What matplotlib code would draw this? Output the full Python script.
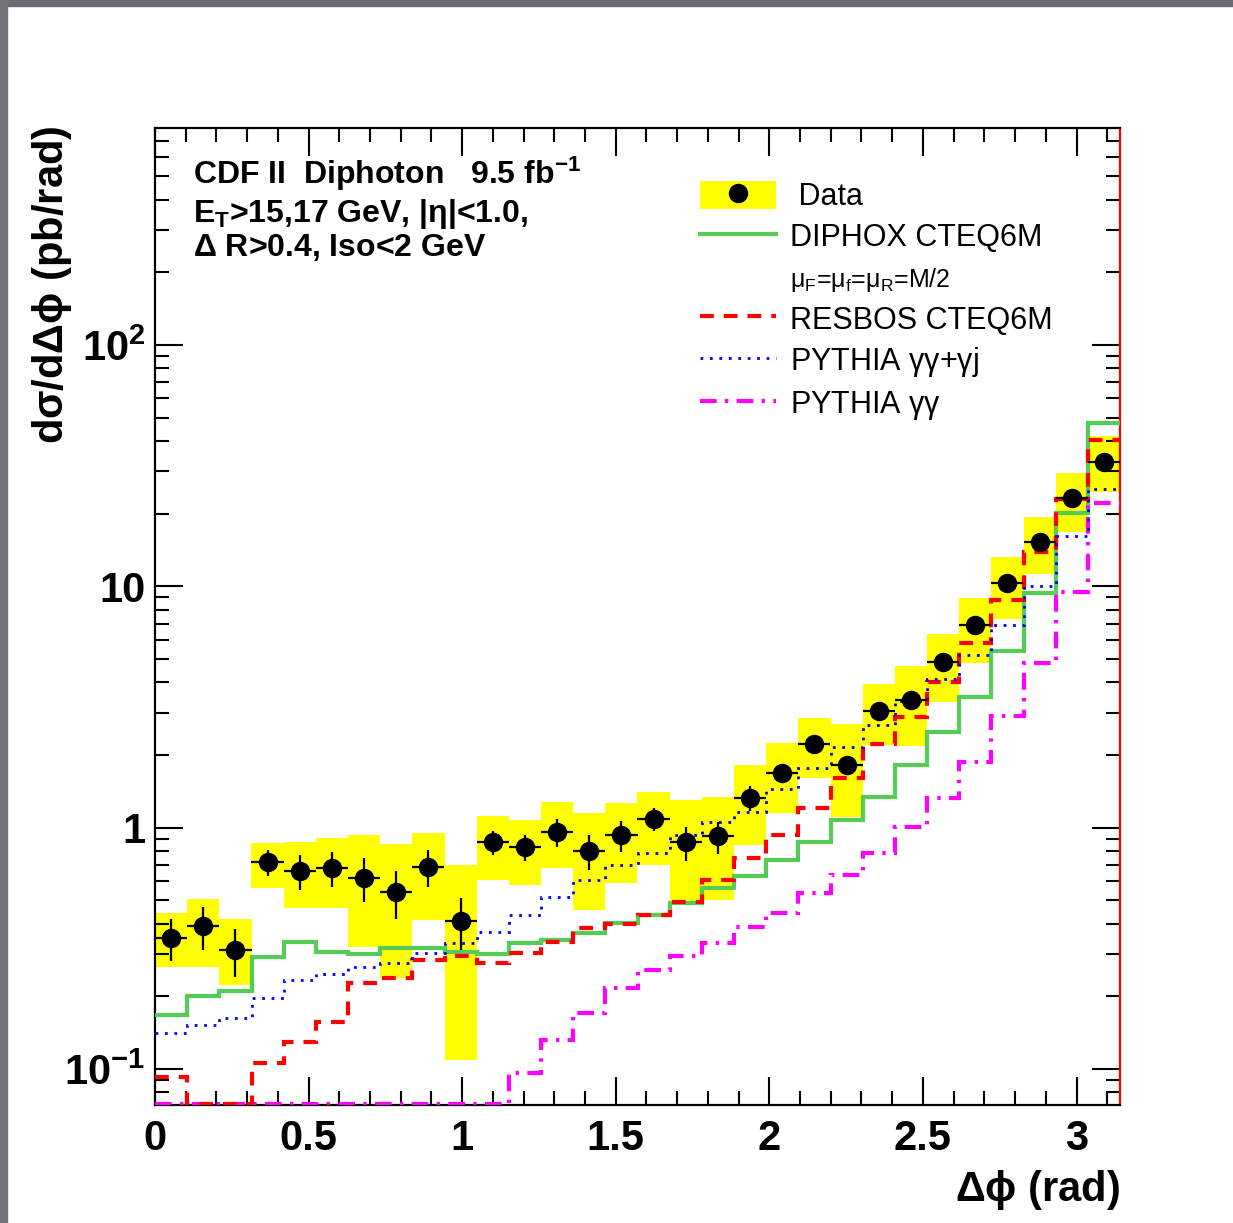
import numpy as np
import matplotlib
matplotlib.use("Agg")
import matplotlib.pyplot as plt
from matplotlib.patches import Patch, Rectangle
from matplotlib.lines import Line2D
from matplotlib.ticker import MultipleLocator, LogLocator, NullFormatter

plt.rcParams['font.family'] = ['Liberation Sans', 'DejaVu Sans']
plt.rcParams['mathtext.fontset'] = 'custom'
plt.rcParams['mathtext.rm'] = 'Liberation Sans'
plt.rcParams['mathtext.it'] = 'Liberation Sans:italic'
plt.rcParams['mathtext.bf'] = 'Liberation Sans:bold'
plt.rcParams['mathtext.default'] = 'regular'

# 30 bins in delta phi from 0 to pi
nbins = 30
edges = np.linspace(0, np.pi, nbins + 1)
centers = 0.5 * (edges[:-1] + edges[1:])

data = [0.35, 0.39, 0.31, 0.72, 0.66, 0.68, 0.62, 0.54, 0.69, 0.41,
        0.87, 0.83, 0.96, 0.80, 0.93, 1.09, 0.87, 0.92, 1.33, 1.69,
        2.23, 1.82, 3.03, 3.39, 4.88, 6.94, 10.3, 15.3, 23.3, 32.6]
stat_err = [0.07, 0.08, 0.07, 0.09, 0.11, 0.11, 0.13, 0.12, 0.12, 0.10,
            0.10, 0.10, 0.13, 0.13, 0.14, 0.12, 0.14, 0.14, 0.16, 0.15,
            0.18, 0.17, 0.20, 0.20, 0.25, 0.30, 0.40, 0.50, 0.60, 0.80]
sys_lo = [0.266, 0.266, 0.224, 0.564, 0.466, 0.466, 0.32, 0.239, 0.416, 0.109,
          0.61, 0.58, 0.68, 0.457, 0.59, 0.70, 0.494, 0.503, 0.85, 1.15,
          1.61, 1.11, 2.21, 2.17, 3.33, 4.83, 7.3, 11.2, 16.8, 24.7]
sys_hi = [0.445, 0.508, 0.42, 0.867, 0.875, 0.91, 0.935, 0.858, 0.953, 0.703,
          1.12, 1.08, 1.28, 1.15, 1.27, 1.40, 1.30, 1.34, 1.82, 2.25,
          2.86, 2.70, 3.95, 4.69, 6.36, 8.98, 13.2, 19.4, 29.5, 41.9]

# 0 = below the drawn range
diphox = [0.168, 0.20, 0.21, 0.29, 0.337, 0.306, 0.30, 0.318, 0.318, 0.306,
          0.30, 0.333, 0.343, 0.367, 0.404, 0.436, 0.489, 0.564, 0.63, 0.737,
          0.875, 1.08, 1.34, 1.82, 2.48, 3.49, 5.42, 9.42, 20.2, 47.7]
resbos = [0.093, 0, 0, 0.106, 0.13, 0.157, 0.228, 0.239, 0.284, 0.295,
          0.275, 0.303, 0.337, 0.385, 0.40, 0.436, 0.493, 0.61, 0.75, 0.935,
          1.21, 1.60, 2.23, 2.88, 4.03, 5.85, 8.81, 13.9, 23.1, 40.2]
pythia_gj = [0.141, 0.153, 0.163, 0.197, 0.234, 0.248, 0.266, 0.275, 0.303, 0.334,
             0.371, 0.436, 0.518, 0.61, 0.703, 0.788, 0.935, 1.06, 1.16, 1.45,
             1.77, 2.15, 2.67, 3.36, 4.14, 5.21, 6.94, 10.0, 16.1, 25.4]
pythia_gg = [0, 0, 0, 0, 0, 0, 0, 0, 0, 0,
             0, 0.096, 0.132, 0.171, 0.217, 0.258, 0.295, 0.334, 0.389, 0.444,
             0.538, 0.638, 0.788, 1.01, 1.33, 1.88, 2.91, 4.79, 9.5, 22.2]

ymin, ymax = 0.0710, 792.0

fig = plt.figure(figsize=(12.33, 12.23), dpi=100)
ax = fig.add_axes([155 / 1233, 1 - 1105 / 1223, 965 / 1233, 977 / 1223])
ax.set_yscale('log')
ax.set_xlim(0, np.pi)
ax.set_ylim(ymin, ymax)

binw = edges[1] - edges[0]
lo = np.array(sys_lo)
hi = np.array(sys_hi)
ax.bar(centers, hi - lo, bottom=lo, width=binw, color='#ffff00', linewidth=0, zorder=1)

def clip(v):
    return np.maximum(np.array(v, dtype=float), ymin * 1.005)

ax.stairs(clip(diphox), edges, baseline=None, color='#55cc55', lw=3, zorder=3)
ax.stairs(clip(resbos), edges, baseline=None, color='#ff0000', lw=3,
          linestyle=(0, (3.3, 2.4)), zorder=4)
ax.stairs(clip(pythia_gj), edges, baseline=None, color='#0000ff', lw=2.0,
          linestyle=(0, (1.0, 2.4)), zorder=4)
ax.stairs(clip(pythia_gg), edges, baseline=None, color='#ff00ff', lw=3,
          linestyle=(0, (4, 2, 0.8, 2)), zorder=3)

ax.errorbar(centers, data, yerr=stat_err, xerr=binw / 2, fmt='o', color='black',
            ms=13, lw=1.6, capsize=0, zorder=6)

# axes style
for s in ax.spines.values():
    s.set_linewidth(1.6)
ax.spines['right'].set_color('#ff0000')
ax.xaxis.set_major_locator(MultipleLocator(0.5))
ax.xaxis.set_minor_locator(MultipleLocator(0.1))
ax.set_xticks([0, 0.5, 1, 1.5, 2, 2.5, 3], labels=['0', '0.5', '1', '1.5', '2', '2.5', '3'])
ax.set_yticks([0.1, 1, 10, 100],
              labels=[r'$\mathbf{10^{-1}}$', '1', '10', r'$\mathbf{10^{2}}$'])
ax.yaxis.set_minor_locator(LogLocator(base=10, subs=np.arange(2, 10)))
ax.yaxis.set_minor_formatter(NullFormatter())
ax.tick_params(which='both', direction='in', top=True, right=True, width=1.5)
ax.tick_params(which='major', length=20)
ax.tick_params(which='minor', length=10)
ax.tick_params(axis='x', which='major', labelsize=30, pad=10)
ax.tick_params(axis='y', which='major', labelsize=30, pad=7)
for lab in ax.get_xticklabels() + ax.get_yticklabels():
    lab.set_fontweight('bold')

fig.text(52 / 1233, 1 - 126 / 1223, r'd$\sigma$/d$\Delta\phi$ (pb/rad)', rotation=90,
         ha='center', va='top', fontsize=30, fontweight='bold')
fig.text(1120 / 1233, 1 - 1190 / 1223, r'$\Delta\phi$ (rad)', ha='right', va='center',
         fontsize=30, fontweight='bold')

# info text
ax.text(0.0394, 0.953, r'CDF II  Diphoton   9.5 fb$^{-1}$', transform=ax.transAxes,
        fontsize=23, fontweight='bold', va='center')
ax.text(0.0394, 0.912, r'E$_T$>15,17 GeV, |$\eta$|<1.0,', transform=ax.transAxes,
        fontsize=23, fontweight='bold', va='center')
ax.text(0.0394, 0.878, r'$\Delta$ R>0.4, Iso<2 GeV', transform=ax.transAxes,
        fontsize=23, fontweight='bold', va='center')

# legend
h_data = (Patch(facecolor='#ffff00', edgecolor='none'),
          Line2D([], [], marker='o', color='black', ms=13, ls='none'))
h_diph = Line2D([], [], color='#55cc55', lw=3)
h_blank = Line2D([], [], color='none')
h_res = Line2D([], [], color='#ff0000', lw=3, ls=(0, (3.3, 2.4)))
h_gj = Line2D([], [], color='#0000ff', lw=2.0, ls=(0, (1.0, 2.4)))
h_gg = Line2D([], [], color='#ff00ff', lw=3, ls=(0, (4, 2, 0.8, 2)))
labels = [' Data', 'DIPHOX CTEQ6M', r'$\mu_F$=$\mu_f$=$\mu_R$=M/2',
          'RESBOS CTEQ6M', r'PYTHIA $\gamma\gamma$+$\gamma$j', r'PYTHIA $\gamma\gamma$']
leg = ax.legend([h_data, h_diph, h_blank, h_res, h_gj, h_gg], labels,
                loc='upper left', bbox_to_anchor=(0.5648, 0.946), frameon=False,
                fontsize=22, handlelength=2.5, handleheight=1.05, handletextpad=0.45,
                labelspacing=0.31, borderpad=0, borderaxespad=0)
leg.get_texts()[2].set_fontsize(18)

# grey frame of the screenshot
fig.patches.append(Rectangle((0, 1 - 6 / 1223), 1, 6 / 1223, transform=fig.transFigure,
                             color='#6a696f', zorder=0))
fig.patches.append(Rectangle((0, 0), 7 / 1233, 1, transform=fig.transFigure,
                             color='#737277', zorder=0))

fig.savefig('out.png', dpi=100)
